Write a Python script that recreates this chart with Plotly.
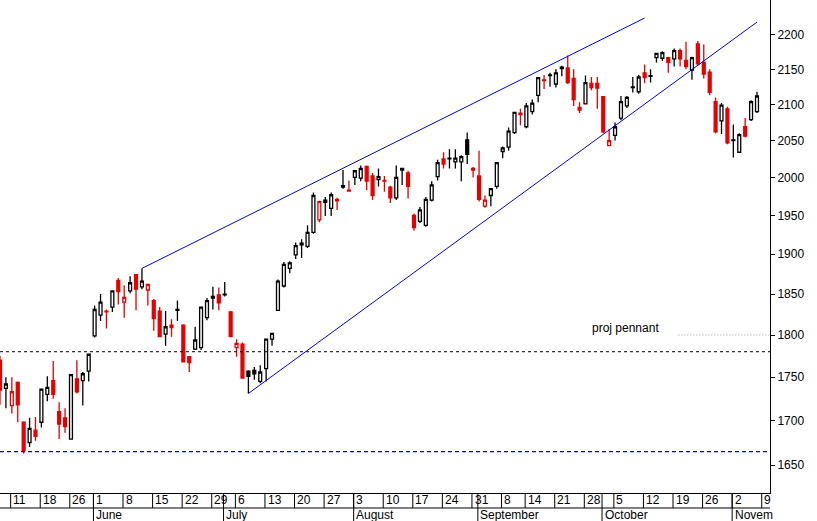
import pandas as pd
import plotly.graph_objects as go

# trading days May 7 - Nov 6 2015
holidays = ['2015-05-25', '2015-07-03', '2015-09-07']
dates = [d for d in pd.bdate_range('2015-05-07', '2015-11-06') if d.strftime('%Y-%m-%d') not in holidays]

# May
may_o = [1770, 1737, 1717, 1744, 1698, 1675, 1689, 1698, 1730, 1746, 1710, 1703, 1679, 1748, 1746, 1757]
may_h = [1775, 1750, 1750, 1745, 1699, 1703, 1704, 1736, 1751, 1769, 1721, 1714, 1753, 1770, 1756, 1777]
may_l = [1718, 1714, 1708, 1698, 1663, 1670, 1677, 1692, 1722, 1725, 1679, 1686, 1679, 1731, 1717, 1745]
may_c = [1735, 1742, 1733, 1718, 1666, 1691, 1682, 1736, 1738, 1730, 1696, 1693, 1753, 1733, 1754, 1777]
# June
jun_o = [1799, 1824, 1828, 1834, 1867, 1840, 1854, 1874, 1859, 1855, 1842, 1829, 1801, 1812, 1830, 1812, 1774, 1783, 1785, 1821, 1847, 1849]
jun_h = [1836, 1850, 1831, 1854, 1870, 1861, 1872, 1875, 1882, 1862, 1844, 1834, 1829, 1819, 1842, 1813, 1775, 1810, 1834, 1845, 1859, 1858]
jun_l = [1797, 1817, 1808, 1828, 1837, 1821, 1851, 1830, 1856, 1836, 1805, 1798, 1787, 1798, 1817, 1768, 1756, 1782, 1782, 1818, 1831, 1830]
jun_c = [1831, 1840, 1829, 1854, 1853, 1846, 1864, 1856, 1866, 1862, 1820, 1798, 1810, 1809, 1831, 1768, 1767, 1794, 1834, 1842, 1845, 1839]
# July
jul_o = [1849, 1828, 1785, 1789, 1757, 1758, 1745, 1760, 1795, 1830, 1860, 1882, 1899, 1912, 1910, 1928, 1944, 1967, 1959, 1969, 1989, 1983]
jul_h = [1865, 1829, 1795, 1791, 1758, 1762, 1764, 1795, 1802, 1868, 1890, 1891, 1915, 1919, 1937, 1980, 1969, 1974, 1980, 1973, 2010, 1996]
jul_l = [1847, 1798, 1774, 1749, 1731, 1747, 1743, 1745, 1787, 1830, 1858, 1876, 1894, 1895, 1908, 1926, 1941, 1949, 1949, 1957, 1985, 1982]
jul_c = [1850, 1798, 1790, 1749, 1751, 1754, 1756, 1795, 1802, 1866, 1887, 1889, 1911, 1914, 1928, 1976, 1968, 1970, 1977, 1971, 1987, 1982]
# August
aug_o = [2000, 1999, 2015, 2002, 1997, 1996, 1987, 1973, 2012, 2006, 1950, 1942, 1937, 1970, 2001, 2025, 2026, 2021, 2021, 2051, 2012]
aug_h = [2010, 2016, 2016, 2006, 2012, 2002, 1989, 2016, 2013, 2009, 1952, 1961, 1974, 1995, 2024, 2034, 2038, 2038, 2030, 2061, 2014]
aug_l = [1990, 1995, 1983, 1970, 1988, 1981, 1966, 1970, 1990, 1972, 1930, 1940, 1935, 1968, 1996, 2012, 2012, 2012, 1995, 2018, 2000]
aug_c = [2009, 2012, 1995, 1976, 2001, 1995, 1973, 2000, 2010, 1988, 1934, 1957, 1971, 1990, 2020, 2018, 2025, 2026, 2028, 2031, 2010]
# September
sep_o = [2002, 1962, 1976, 1988, 2035, 2041, 2061, 2088, 2069, 2090, 2113, 2135, 2142, 2129, 2153, 2152, 2137, 2096, 2101, 2130, 2130]
sep_h = [2036, 1976, 1985, 2020, 2042, 2068, 2090, 2094, 2102, 2107, 2138, 2142, 2145, 2150, 2155, 2170, 2150, 2103, 2141, 2139, 2139]
sep_l = [1968, 1960, 1962, 1985, 2026, 2036, 2059, 2071, 2067, 2086, 2103, 2122, 2125, 2124, 2140, 2129, 2098, 2088, 2100, 2120, 2094]
sep_c = [1971, 1970, 1985, 2020, 2040, 2063, 2089, 2086, 2098, 2102, 2138, 2134, 2141, 2145, 2151, 2131, 2107, 2092, 2131, 2124, 2123]
# October
oct_o = [2111, 2043, 2057, 2081, 2098, 2125, 2118, 2145, 2141, 2167, 2166, 2167, 2165, 2177, 2163, 2149, 2187, 2160, 2146, 2104, 2077, 2094]
oct_h = [2112, 2066, 2075, 2112, 2112, 2139, 2142, 2157, 2150, 2174, 2176, 2168, 2180, 2180, 2190, 2168, 2191, 2186, 2150, 2110, 2102, 2097]
oct_l = [2060, 2043, 2050, 2078, 2095, 2117, 2115, 2130, 2131, 2160, 2162, 2145, 2154, 2154, 2150, 2135, 2156, 2137, 2113, 2060, 2059, 2045]
oct_c = [2062, 2050, 2069, 2104, 2110, 2124, 2139, 2138, 2140, 2173, 2174, 2160, 2177, 2165, 2154, 2167, 2158, 2143, 2117, 2062, 2099, 2047]
# November
nov_o = [2051, 2034, 2069, 2079, 2090]
nov_h = [2072, 2060, 2081, 2106, 2118]
nov_l = [2027, 2033, 2054, 2077, 2088]
nov_c = [2050, 2058, 2056, 2104, 2112]

# trendlines and levels
upper_dates = ['2015-06-11', '2015-10-12']
upper_vals = [1882, 2225]
lower_dates = ['2015-07-08', '2015-11-06']
lower_vals = [1731, 2219]
level_black = 1780
level_blue = 1665
proj_pennant = 1800

opens = may_o + jun_o + jul_o + aug_o + sep_o + oct_o + nov_o
highs = may_h + jun_h + jul_h + aug_h + sep_h + oct_h + nov_h
lows = may_l + jun_l + jul_l + aug_l + sep_l + oct_l + nov_l
closes = may_c + jun_c + jul_c + aug_c + sep_c + oct_c + nov_c
n = len(dates)
assert n == len(opens) == len(closes)
idx = {d.strftime('%Y-%m-%d'): i for i, d in enumerate(dates)}

# red when close is below previous close
red = [closes[i] < (closes[i - 1] if i else opens[i]) for i in range(n)]

x_end = 130.2
RED = '#e80000'
BLUE = '#0000ee'
fig = go.Figure()
for is_red, col in [(False, 'black'), (True, RED)]:
    sel = [i for i in range(n) if red[i] == is_red]
    fig.add_trace(go.Candlestick(
        x=sel,
        open=[opens[i] for i in sel], high=[highs[i] for i in sel],
        low=[lows[i] for i in sel], close=[closes[i] for i in sel],
        increasing=dict(line=dict(color=col, width=1.3), fillcolor='white'),
        decreasing=dict(line=dict(color=col, width=1.3), fillcolor=col),
        whiskerwidth=0, showlegend=False, hoverinfo='skip'
    ))

fig.add_trace(go.Scatter(x=[idx[d] for d in upper_dates], y=upper_vals, mode='lines',
                         line=dict(color=BLUE, width=1), showlegend=False))
fig.add_trace(go.Scatter(x=[idx[d] for d in lower_dates], y=lower_vals, mode='lines',
                         line=dict(color=BLUE, width=1), showlegend=False))
fig.add_trace(go.Scatter(x=[0, x_end], y=[level_black] * 2, mode='lines',
                         line=dict(color='black', width=1, dash='3px,3px'), showlegend=False))
fig.add_trace(go.Scatter(x=[0, x_end], y=[level_blue] * 2, mode='lines',
                         line=dict(color=BLUE, width=1.2, dash='4px,3px'), showlegend=False))
fig.add_trace(go.Scatter(x=[114.7, x_end], y=[proj_pennant] * 2, mode='lines',
                         line=dict(color='#999999', width=1, dash='1px,2px'), showlegend=False))

font = dict(family='Liberation Sans, Arial', size=12, color='black')
shapes = []
annotations = [dict(x=0.766, y=0.335, xref='paper', yref='paper', text='proj pennant',
                    showarrow=False, xanchor='left', yanchor='middle', font=font)]
# week ticks: first trading day of each week, plus Nov 9
week_pos = []
for i, d in enumerate(dates):
    if i > 0 and d.isocalendar()[1] != dates[i - 1].isocalendar()[1]:
        week_pos.append((i, d.day))
week_pos.append((n, 9))
for i, day in week_pos:
    shapes.append(dict(type='line', xref='x', yref='paper', x0=i - 0.2, x1=i - 0.2, y0=0, y1=-0.0304,
                       line=dict(color='black', width=1)))
    annotations.append(dict(x=i - 0.1, y=-0.0152, xref='x', yref='paper', text=str(day), showarrow=False,
                            xanchor='left', yanchor='middle', font=font))
months = ['June', 'July', 'August', 'September', 'October', 'Novem']
month_pos = [i for i in range(1, n) if dates[i].month != dates[i - 1].month]
for i, name in zip(month_pos, months):
    shapes.append(dict(type='line', xref='x', yref='paper', x0=i - 0.2, x1=i - 0.2, y0=0, y1=-0.06,
                       line=dict(color='black', width=1)))
    annotations.append(dict(x=i - 0.1, y=-0.044, xref='x', yref='paper', text=name, showarrow=False,
                            xanchor='left', yanchor='middle', font=font))
shapes.append(dict(type='line', xref='paper', yref='paper', x0=0, x1=1, y0=-0.0304, y1=-0.0304,
                   line=dict(color='black', width=1)))

fig.update_layout(
    width=817, height=521,
    margin=dict(l=0, r=47, t=0, b=28),
    plot_bgcolor='white', paper_bgcolor='white',
    font=font,
    xaxis=dict(range=[0, x_end], showgrid=False, zeroline=False, showticklabels=False, ticks='',
               showline=True, linecolor='black', rangeslider=dict(visible=False), fixedrange=True),
    yaxis=dict(type='log', side='right', range=[3.20939, 3.35257], showgrid=False, zeroline=False,
               tickvals=list(range(1650, 2201, 50)), ticks='outside', ticklen=4, tickcolor='black',
               showline=True, linecolor='black'),
    shapes=shapes, annotations=annotations, showlegend=False,
)
fig.write_html('out.html', config={'displayModeBar': False},
               post_script="document.body.style.margin='0';document.body.style.overflow='hidden';")
